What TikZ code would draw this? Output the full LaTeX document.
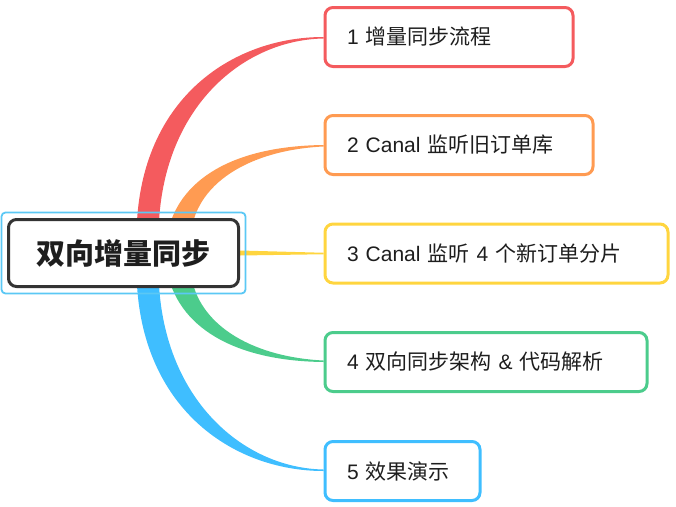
\documentclass[tikz,border=0pt]{standalone}
\usepackage{fontspec}
\setmainfont{Liberation Sans}
\newfontfamily\cjk{Noto Sans CJK SC}
\usetikzlibrary{calc,backgrounds}
\definecolor{cred}{HTML}{F45B5E}
\definecolor{corange}{HTML}{FF9B52}
\definecolor{cyellow}{HTML}{FFD53F}
\definecolor{cgreen}{HTML}{4CCC8C}
\definecolor{cblue}{HTML}{3FBEFF}
\definecolor{csel}{HTML}{5BC8F5}
\definecolor{rootc}{HTML}{333333}
\definecolor{textc}{HTML}{1E1E1E}
\begin{document}
\begin{tikzpicture}[x=1pt,y=-1pt,
  topic/.style={draw, line width=3pt, rounded corners=8pt, fill=white,
    minimum height=59pt, anchor=west, align=left, inner xsep=22pt,
    text=textc, font=\fontsize{21}{25}\selectfont},
  roottopic/.style={draw=rootc, line width=3pt, rounded corners=8pt, fill=white,
    minimum width=230pt, minimum height=67pt, text=textc,
    font=\fontsize{29}{34}\selectfont\cjk\bfseries},
  selbox/.style={draw=csel, line width=1.8pt, rounded corners=4pt}]
\useasboundingbox (0,0) rectangle (676,506);

\node[roottopic] (root) at (123.5,253) {双向增量同步};
\draw[selbox] ($(root.north west)+(-5.5,-5.5)$) rectangle ($(root.south east)+(5.5,5.5)$);

\node[topic, draw=cred, minimum width=248pt, text width=204pt] (n1) at (323.5,37) {1 {\cjk 增量同步流程}};
\node[topic, draw=corange, minimum width=268pt, text width=224pt] (n2) at (323.5,145) {2 Canal {\cjk 监听旧订单库}};
\node[topic, draw=cyellow, minimum width=343pt, text width=299pt] (n3) at (323.5,253.5) {3 Canal {\cjk 监听} 4 {\cjk 个新订单分片}};
\node[topic, draw=cgreen, minimum width=322pt, text width=278pt] (n4) at (323.5,362) {4 {\cjk 双向同步架构} \& {\cjk 代码解析}};
\node[topic, draw=cblue, minimum width=155pt, text width=111pt] (n5) at (323.5,471) {5 {\cjk 效果演示}};

\begin{scope}[on background layer]
  % red
  \fill[cred] ($(root.north west)+(129.5,20)$) .. controls +(0,-138) and +(-92,0) .. (n1.west)
     -- ($(n1.west)+(0,1.5)$) .. controls +(-82,1.5) and +(0,-128) .. ($(root.north west)+(151.5,20)$) -- cycle;
  % orange
  \fill[corange] ($(root.north west)+(159.5,20)$) .. controls +(10,-60) and +(-88,1) .. (n2.west)
     -- ($(n2.west)+(0,1.5)$) .. controls +(-73,3.5) and +(3,-55) .. ($(root.north west)+(183.5,20)$) -- cycle;
  % yellow
  \fill[cyellow] ($(root.east)+(0,-2.5)$) -- ($(n3.west)+(0,-0.75)$) -- ($(n3.west)+(0,0.75)$) -- ($(root.east)+(0,2.5)$) -- cycle;
  % green
  \fill[cgreen] ($(root.south west)+(159.5,-20)$) .. controls +(10,60) and +(-88,-1) .. (n4.west)
     -- ($(n4.west)+(0,-1.5)$) .. controls +(-73,-3.5) and +(3,55) .. ($(root.south west)+(183.5,-20)$) -- cycle;
  % blue
  \fill[cblue] ($(root.south west)+(129.5,-20)$) .. controls +(0,138) and +(-92,0) .. (n5.west)
     -- ($(n5.west)+(0,-1.5)$) .. controls +(-82,-1.5) and +(0,128) .. ($(root.south west)+(151.5,-20)$) -- cycle;
\end{scope}
\end{tikzpicture}
\end{document}
